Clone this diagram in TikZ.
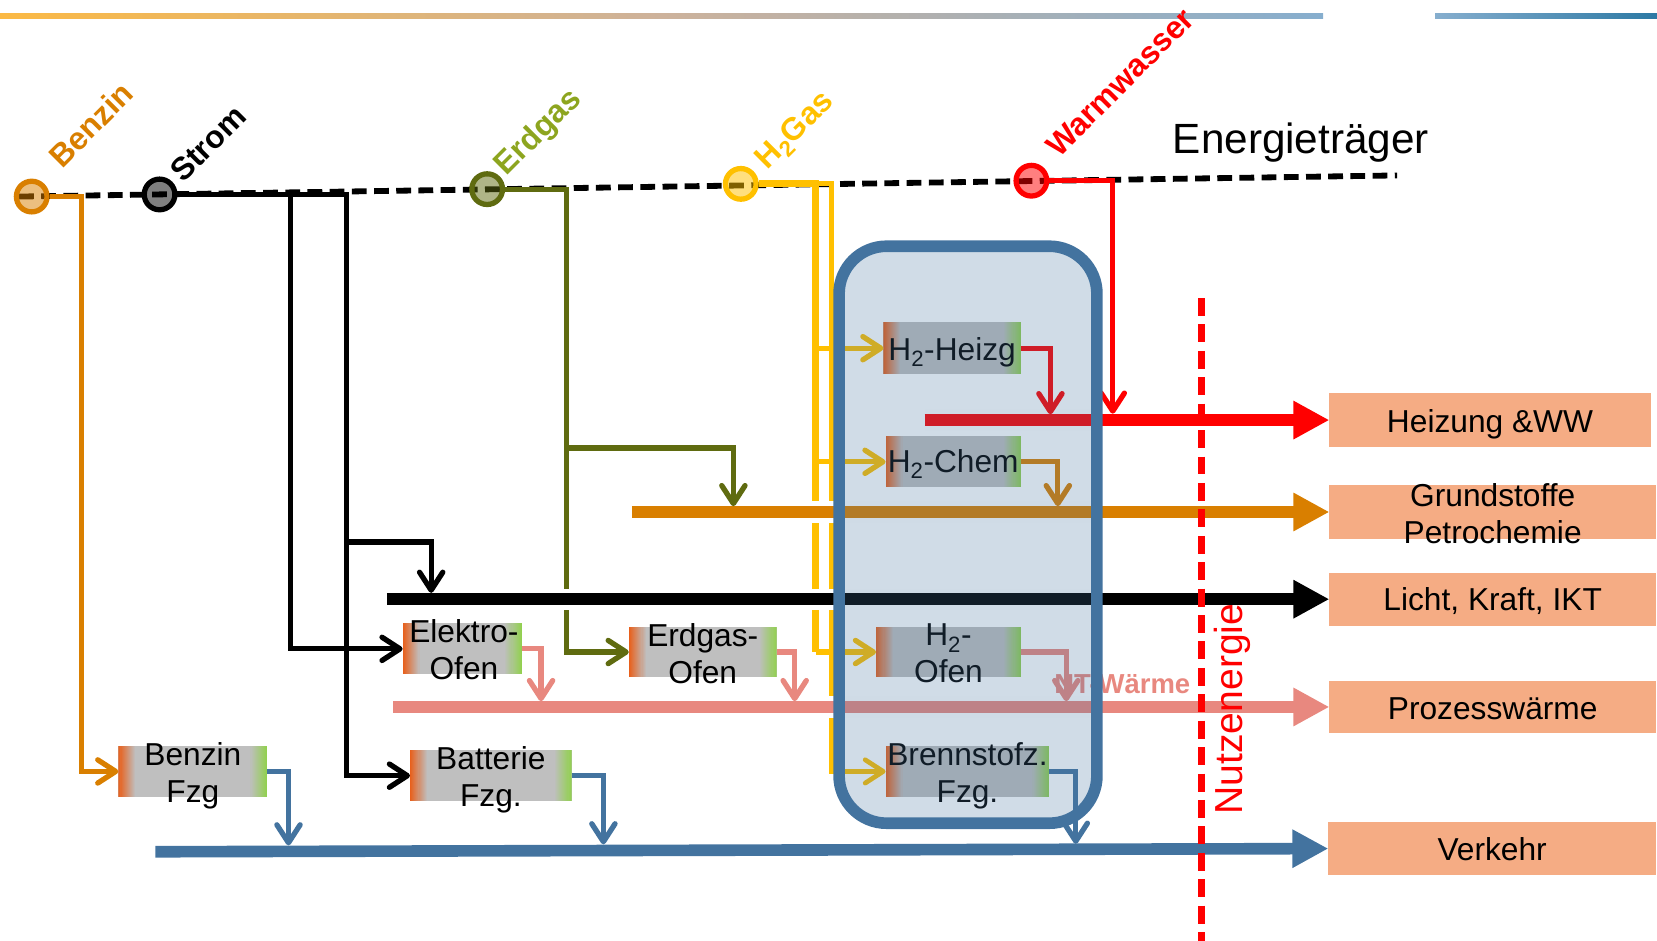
\documentclass[tikz,border=0pt]{standalone}
\usepackage{fontspec}
\setmainfont{Liberation Sans}
\usetikzlibrary{arrows.meta}
\definecolor{benz}{HTML}{D97F00}
\definecolor{oliv}{HTML}{5F6B10}
\definecolor{olivlbl}{HTML}{8DA51F}
\definecolor{hgelb}{HTML}{FFC000}
\definecolor{heat}{HTML}{E8887F}
\definecolor{ovblue}{HTML}{43739F}
\definecolor{procgray}{HTML}{BFBFBF}
\definecolor{procor}{HTML}{E8601C}
\definecolor{procgr}{HTML}{92D050}
\definecolor{outfill}{HTML}{F5AC84}
\definecolor{topA}{HTML}{FBB944}
\definecolor{topB}{HTML}{CDB29B}
\definecolor{topC}{HTML}{86AECE}
\definecolor{topD}{HTML}{2C79A4}
\tikzset{
  conn/.style={line width=5pt},
  chev/.tip={Straight Barb[length=17pt,width=22pt,round]},
  bigtip/.tip={Triangle[length=34pt,width=34pt]},
  bus/.style={line width=11pt,-bigtip},
  casing/.style={white,line width=20pt},
  carrier/.style={circle,minimum size=29pt,inner sep=0pt,line width=5pt,draw=#1,fill=#1,fill opacity=0.5,draw opacity=1},
  clabel/.style={font=\fontsize{30}{32}\selectfont\bfseries,rotate=45,inner sep=0pt,text=#1},
  procbox/.style={fill=procgray,inner sep=0pt,outer sep=0pt,
    path picture={
      \foreach \i in {0,...,15}{
        \pgfmathsetmacro\pc{100-\i*6.25}
        \fill[procor!\pc!procgray] ([xshift=\i pt]path picture bounding box.south west) rectangle ([xshift=\i pt+1.1pt]path picture bounding box.north west);
        \fill[procgr!\pc!procgray] ([xshift=-\i pt]path picture bounding box.south east) rectangle ([xshift=-\i pt-1.1pt]path picture bounding box.north east);
      }
    }},
  ptext/.style={font=\fontsize{30}{35}\selectfont,align=center,inner sep=0pt},
  outbox/.style={fill=outfill,inner sep=0pt,outer sep=0pt},
  otext/.style={font=\fontsize{30}{35}\selectfont,align=center,inner sep=0pt},
}
\begin{document}
\begin{tikzpicture}[x=1pt,y=-1pt]
\path[use as bounding box] (0,0) rectangle (1568,890);
% top decorative line
\shade[left color=topA,right color=topC,middle color=topB] (0,12.5) rectangle (1252,17.5);
\shade[left color=topC,right color=topD] (1358,12.5) rectangle (1568,17.5);

% output boxes
\node[outbox,minimum width=304pt,minimum height=51pt] (ohz) at (1410,397.5) {};
\node[otext,anchor=base] (ohzt) at (1410,409) {Heizung \&WW};
\node[outbox,minimum width=309pt,minimum height=51pt] (ogr) at (1412.5,484.5) {};
\node[otext] (ogrt) at (1412.5,486) {Grundstoffe\\Petrochemie};
\node[outbox,minimum width=309pt,minimum height=50pt] (oli) at (1412.5,567) {};
\node[otext,anchor=base] (olit) at (1412.5,578) {Licht, Kraft, IKT};
\node[outbox,minimum width=309pt,minimum height=50pt] (opr) at (1412.5,669) {};
\node[otext,anchor=base] (oprt) at (1412.5,680.5) {Prozesswärme};
\node[outbox,minimum width=310pt,minimum height=50pt] (ove) at (1412,803) {};
\node[otext,anchor=base] (ovet) at (1412,814.5) {Verkehr};

% process boxes
\node[procbox,minimum width=141pt,minimum height=48pt] (pbf) at (182.5,730) {};
\node[ptext,yshift=-4.5pt] (pbft) at (pbf) {Benzin\\Fzg};
\node[procbox,minimum width=113pt,minimum height=48pt] (pel) at (437.5,614) {};
\node[ptext,yshift=-1pt] (pelt) at (439,614) {Elektro-\\Ofen};
\node[procbox,minimum width=153pt,minimum height=48pt] (pba) at (464.5,734) {};
\node[ptext,yshift=-3.5pt] (pbat) at (pba) {Batterie\\Fzg.};
\node[procbox,minimum width=140pt,minimum height=48pt] (peo) at (665,617) {};
\node[ptext,yshift=-1.5pt] (peot) at (peo) {Erdgas-\\Ofen};
\node[procbox,minimum width=130pt,minimum height=49pt] (phh) at (901,329.5) {};
\node[ptext,yshift=-3.5pt] (phht) at (phh) {H\textsubscript{2}-Heizg};
\node[procbox,minimum width=128pt,minimum height=48pt] (phc) at (902,437) {};
\node[ptext,yshift=-2pt] (phct) at (phc) {H\textsubscript{2}-Chem};
\node[procbox,minimum width=137pt,minimum height=48pt] (pho) at (897.5,617) {};
\node[ptext,yshift=-1.5pt] (phot) at (pho) {H\textsubscript{2}-\\Ofen};
\node[procbox,minimum width=155pt,minimum height=48pt] (pbs) at (915.5,730) {};
\node[ptext,yshift=-4.5pt] (pbst) at (pbs) {Brennstofz.\\Fzg.};

% energy carrier line
\draw[line width=5.5pt,dash pattern=on 14pt off 7pt] (18,186) -- (1322,166);
\node[carrier=benz] (cb) at (30,186) {};
\node[carrier=black] (cs) at (151,184) {};
\node[carrier=oliv] (ce) at (461,179) {};
\node[carrier=hgelb] (ch) at (701,174) {};
\node[carrier=red] (cw) at (976,171) {};

% junction coordinates
\coordinate (bj) at (77,730);
\coordinate (sj1) at (275,614);
\coordinate (sj2) at (328,734);
\coordinate (sj3) at (328,513);
\coordinate (sjt) at (408,561);
\coordinate (ej1) at (536,617);
\coordinate (ej2) at (536,424);
\coordinate (ejt) at (694,479);
\coordinate (hj1) at (772,617);
\coordinate (hj2) at (787,730);
\coordinate (wjt) at (1053,391.5);
\coordinate (rs) at (875,397.5);
\coordinate (os) at (598,484.5);
\coordinate (ks) at (366,567);
\coordinate (ps) at (372,669);
\coordinate (vs) at (147,806);
\coordinate (pbfo) at (273,800);
\coordinate (pbao) at (571,799);
\coordinate (pbso) at (1018,798.5);
\coordinate (pelo) at (512,663.5);
\coordinate (peoo) at (752,663.5);
\coordinate (phoo) at (1009,663.5);
\coordinate (phho) at (994,392);
\coordinate (phco) at (1001,479);

% carrier connectors
\draw[conn,benz,-chev] (cb.east) -| (bj) -- (pbf.west);
\draw[conn,black,-chev] (cs.east) -| (sj1) -- (pel.west);
\draw[conn,black,-chev] (cs.east) -| (sj2) -- (pba.west);
\draw[conn,oliv,-chev] (ce.east) -| (ej1) -- (peo.west);
\draw[line width=4.5pt,hgelb,-chev] (ch.east) -| (hj2) -- (pbs.west);
\draw[line width=6.5pt,hgelb] (ch.east) -| (hj1);
\draw[conn,hgelb,-chev] (hj1) -- (pho.west);
\draw[conn,hgelb,-chev] (phh.west -| hj1) -- (phh.west);
\draw[conn,hgelb,-chev] (phc.west -| hj1) -- (phc.west);

% useful energy buses
\draw[casing] (rs) -- (ohz.west);
\draw[bus,red] (rs) -- (ohz.west);
\draw[casing] (os) -- (ogr.west);
\draw[bus,benz] (os) -- (ogr.west);
\draw[casing] (ks) -- (oli.west);
\draw[bus,black] (ks) -- (oli.west);
\draw[casing] (ps) -- (opr.west);
\draw[bus,heat] (ps) -- (opr.west);
\draw[bus,ovblue] (vs) -- (ove.west);

% arrows into buses
\draw[conn,black,-chev] (sj3) -| (sjt);
\draw[conn,oliv,-chev] (ej2) -| (ejt);
\draw[conn,red,-chev] (cw.east) -| (wjt);
\draw[conn,ovblue,-chev] (pbf.east) -| (pbfo);
\draw[conn,ovblue,-chev] (pba.east) -| (pbao);
\draw[conn,heat,-chev] (pel.east) -| (pelo);
\draw[conn,heat,-chev] (peo.east) -| (peoo);
\draw[conn,heat,-chev] (pho.east) -| (phoo);
\draw[conn,red,-chev] (phh.east) -| (phho);
\draw[conn,benz,-chev] (phc.east) -| (phco);

\node[font=\fontsize{26}{28}\selectfont\bfseries,text=heat,inner sep=0pt] (ntw) at (1062,647) {NT-Wärme};

% hydrogen zone overlay
\node[draw=ovblue,line width=11pt,fill=ovblue,fill opacity=0.25,draw opacity=1,rounded corners=45pt,minimum width=244pt,minimum height=546pt,inner sep=0pt] (hzone) at (916,506) {};
\draw[conn,ovblue,-chev] (pbs.east) -| (pbso);

% Nutzenergie boundary
\draw[red,line width=6pt,dash pattern=on 17pt off 8pt] (1137,282) -- (1137,890);
\node[font=\fontsize{37}{40}\selectfont,text=red,rotate=90,inner sep=0pt] (nutz) at (1166,671) {Nutzenergie};

% labels
\node[clabel=benz] (lb) at (86,118) {Benzin};
\node[clabel=black] (ls) at (197,136) {Strom};
\node[clabel=olivlbl] (le) at (510,126) {Erdgas};
\node[clabel=hgelb] (lh) at (753,124) {H\textsubscript{2}Gas};
\node[clabel=red] (lw) at (1060,78) {Warmwasser};
\node[font=\fontsize{40}{44}\selectfont,inner sep=0pt] (ent) at (1231,135) {Energieträger};
\end{tikzpicture}
\end{document}
